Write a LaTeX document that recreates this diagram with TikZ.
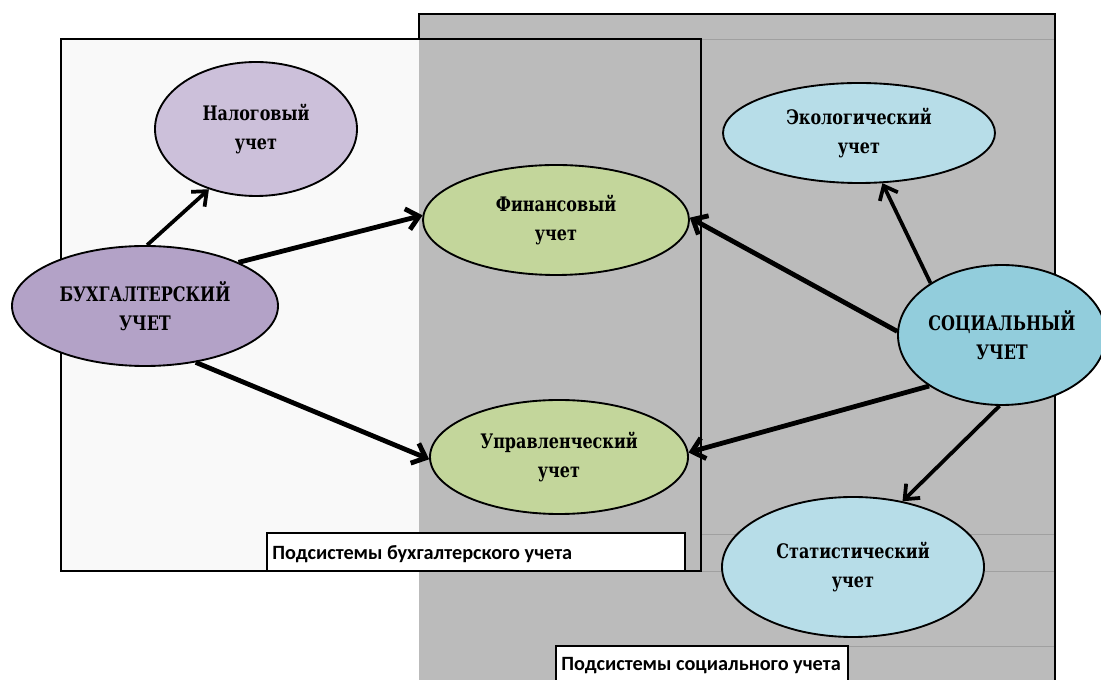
\documentclass[tikz,border=0pt]{standalone}
\usepackage{fontspec}
\usetikzlibrary{shapes.geometric,arrows.meta}
\newfontfamily\ellfont{DejaVu Serif}[FakeStretch=0.8]
\newfontfamily\lblfont{Carlito}
\definecolor{graybg}{RGB}{187,187,187}
\definecolor{leftbg}{RGB}{249,249,249}
\definecolor{faint}{RGB}{160,160,160}
\definecolor{nalc}{RGB}{204,192,218}
\definecolor{buxc}{RGB}{179,162,199}
\definecolor{greenc}{RGB}{195,214,155}
\definecolor{bluec}{RGB}{183,221,232}
\definecolor{socc}{RGB}{146,205,220}
\tikzset{
  ell/.style={ellipse, draw=black, line width=1.4pt, inner sep=0pt, align=center,
    font=\ellfont\bfseries\fontsize{15}{21.5}\selectfont},
  thickarr/.style={line width=3.6pt, -{Straight Barb[length=9pt,width=16pt]}},
  thinarr/.style={line width=2.8pt, -{Straight Barb[length=9pt,width=15pt]}},
  lblbox/.style={draw=black, line width=1.6pt, fill=white},
  lbltext/.style={anchor=base west, inner sep=0pt, font=\lblfont\bfseries\fontsize{15.2}{17}\selectfont}
}
\begin{document}
\begin{tikzpicture}[x=0.75pt,y=-0.75pt]
\useasboundingbox (0,0) rectangle (1101,680);
\fill[white] (0,0) rectangle (1101,680);
% left (accounting) box fill
\fill[leftbg] (61,39) rectangle (701,571);
% social gray area
\fill[graybg] (419,14) rectangle (1055,700);
% faint lines
\draw[faint, line width=0.6pt] (701,39) -- (1055,39);
\draw[faint, line width=0.6pt] (701,534) -- (1055,534);
\draw[faint, line width=0.6pt] (701,571) -- (1055,571);
\draw[faint, line width=0.6pt] (848,646) -- (1055,646);
% borders
\draw[line width=1.8pt] (419,39) -- (419,14) -- (1055,14) -- (1055,700);
\draw[line width=1.5pt] (61,39) rectangle (701,571);
% label boxes
\draw[lblbox] (267,533) rectangle (685,571);
\node[lbltext] (lbl1) at (272,560) {Подсистемы бухгалтерского учета};
\draw[lblbox] (556,646) rectangle (848,700);
\node[lbltext] (lbl2) at (561,671) {Подсистемы социального учета};
% ellipses
\node[ell, fill=nalc, minimum width=151.5pt, minimum height=100.5pt] (nal) at (256,129) {Налоговый\\учет};
\node[ell, fill=buxc, minimum width=199.5pt, minimum height=90pt] (bux) at (145,306) {БУХГАЛТЕРСКИЙ\\УЧЕТ};
\node[ell, fill=greenc, minimum width=199.5pt, minimum height=82.5pt] (fin) at (556,220) {Финансовый\\учет};
\node[ell, fill=greenc, minimum width=193.5pt, minimum height=85.5pt] (upr) at (559,457) {Управленческий\\учет};
\node[ell, fill=bluec, minimum width=204pt, minimum height=75pt] (eco) at (859,133) {Экологический\\учет};
\node[ell, fill=socc, minimum width=156pt, minimum height=105pt] (soc) at (1002,335) {СОЦИАЛЬНЫЙ\\УЧЕТ};
\node[ell, fill=bluec, minimum width=196.5pt, minimum height=105pt] (stat) at (853,567) {Статистический\\учет};
% arrows
\draw[thinarr] (bux.88) -- (nal.232);
\draw[thickarr] (bux.25) -- (fin.178);
\draw[thickarr] (bux.-48) -- (upr.181);
\draw[thickarr] (soc.178) -- (fin.1);
\draw[thickarr] (soc.215) -- (upr.2);
\draw[thinarr] (soc.144) -- (eco.295);
\draw[thinarr] (soc.268) -- (stat.53);
\end{tikzpicture}
\end{document}
